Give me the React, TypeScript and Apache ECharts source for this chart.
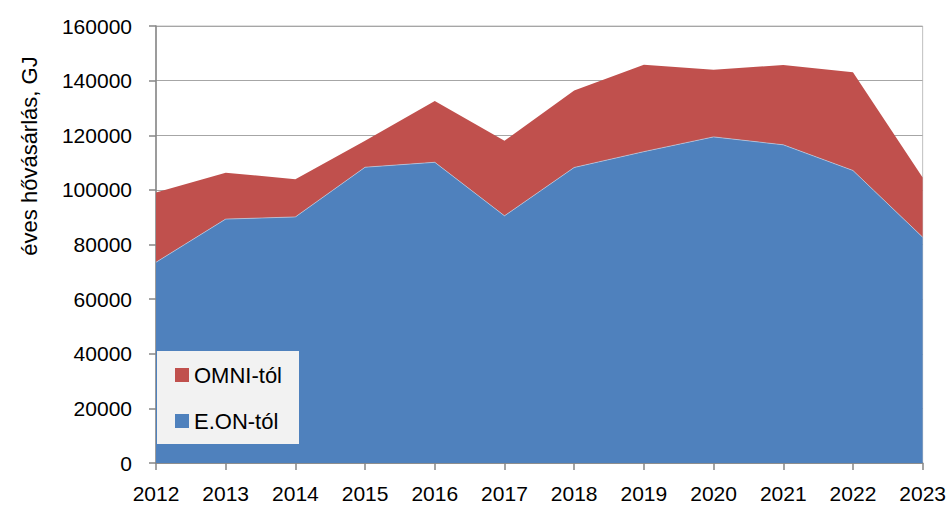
import React, { useEffect, useRef } from "react";
import * as echarts from "echarts";

const years = ["2012", "2013", "2014", "2015", "2016", "2017", "2018", "2019", "2020", "2021", "2022", "2023"];
const eonValues = [73500, 89300, 90100, 108300, 110100, 90500, 108200, 114000, 119400, 116500, 107100, 82700];
const omniValues = [25500, 17000, 13800, 9700, 22400, 27500, 28200, 31800, 24600, 29200, 36000, 21800];
const seriesNames = ["E.ON-tól", "OMNI-tól"];
const yAxisTitle = "éves hővásárlás, GJ";

const FONT = "'Liberation Sans', Arial, sans-serif";

export default function App() {
  const ref = useRef<HTMLDivElement>(null);
  useEffect(() => {
    if (!ref.current) return;
    const chart = echarts.init(ref.current, null, { renderer: "svg" });
    chart.setOption({
      animation: false,
      backgroundColor: "#ffffff",
      textStyle: { fontFamily: FONT },
      grid: {
        left: 156,
        right: 26,
        top: 26,
        bottom: 44,
        show: true,
        borderColor: "#bfbfbf",
        borderWidth: 1,
        backgroundColor: "transparent",
      },
      legend: {
        orient: "vertical",
        left: 157,
        top: 351,
        data: [seriesNames[1], seriesNames[0]],
        icon: "rect",
        itemWidth: 14,
        itemHeight: 14,
        itemGap: 22,
        padding: [12, 17, 11, 18],
        backgroundColor: "#f2f2f2",
        textStyle: { fontSize: 22, color: "#000", fontFamily: FONT, lineHeight: 24 },
      },
      xAxis: {
        type: "category",
        data: years,
        boundaryGap: false,
        axisLine: { show: true, lineStyle: { color: "#868686", width: 1.5 } },
        axisTick: { show: true, length: 7, interval: 0, lineStyle: { color: "#868686", width: 1.5 } },
        axisLabel: { fontSize: 21, color: "#000", margin: 20, interval: 0, fontFamily: FONT },
        splitLine: { show: false },
      },
      yAxis: {
        type: "value",
        min: 0,
        max: 160000,
        interval: 20000,
        axisLine: { show: true, lineStyle: { color: "#868686", width: 1.5 } },
        axisTick: { show: true, length: 7, lineStyle: { color: "#868686", width: 1.5 } },
        axisLabel: {
          fontSize: 21,
          color: "#000",
          margin: 24,
          fontFamily: FONT,
          formatter: (v: number) => String(v),
        },
        splitLine: { show: true, lineStyle: { color: "#a6a6a6", width: 1 } },
      },
      graphic: [
        {
          type: "text",
          x: 29,
          y: 156,
          rotation: Math.PI / 2,
          style: {
            text: yAxisTitle,
            fontSize: 22,
            fontFamily: FONT,
            fill: "#000",
            textAlign: "center",
            textVerticalAlign: "middle",
          },
        },
      ],
      series: [
        {
          name: seriesNames[0],
          type: "line",
          stack: "total",
          data: eonValues,
          showSymbol: false,
          symbol: "none",
          lineStyle: { width: 0.6, color: "#c9d8ea" },
          itemStyle: { color: "#4f81bd" },
          areaStyle: { color: "#4f81bd", opacity: 1 },
          z: 3,
        },
        {
          name: seriesNames[1],
          type: "line",
          stack: "total",
          data: omniValues,
          showSymbol: false,
          symbol: "none",
          lineStyle: { width: 0 },
          itemStyle: { color: "#c0504d" },
          areaStyle: { color: "#c0504d", opacity: 1 },
          z: 2,
        },
      ],
    });
    return () => chart.dispose();
  }, []);
  return (
    <div
      ref={ref}
      style={{ position: "fixed", left: 0, top: 0, width: 949, height: 507 }}
    />
  );
}
